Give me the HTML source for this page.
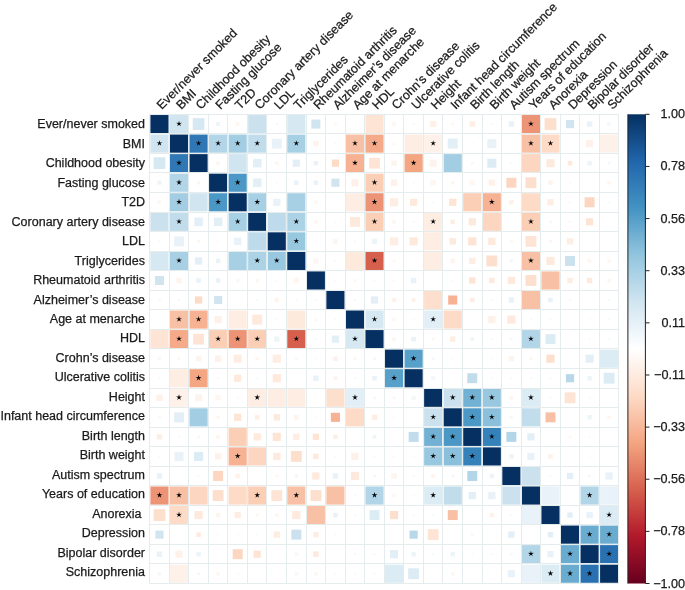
<!DOCTYPE html>
<html><head><meta charset="utf-8"><style>
html,body{margin:0;padding:0;background:#fff;}
body{width:685px;height:590px;overflow:hidden;position:relative;}
svg{position:absolute;left:0;top:0;will-change:transform;}
text{font-family:"Liberation Sans",sans-serif;fill:#1a1a1a;stroke:#1a1a1a;stroke-width:0.25px;}
</style></head><body>
<svg width="685" height="590" viewBox="0 0 685 590">
<defs><linearGradient id="cb" x1="0" y1="0" x2="0" y2="1">
<stop offset="0.000" stop-color="#053061"/>
<stop offset="0.100" stop-color="#2166AC"/>
<stop offset="0.200" stop-color="#4393C3"/>
<stop offset="0.300" stop-color="#92C5DE"/>
<stop offset="0.400" stop-color="#D1E5F0"/>
<stop offset="0.500" stop-color="#FFFFFF"/>
<stop offset="0.600" stop-color="#FDDBC7"/>
<stop offset="0.700" stop-color="#F4A582"/>
<stop offset="0.800" stop-color="#D6604D"/>
<stop offset="0.900" stop-color="#B2182B"/>
<stop offset="1.000" stop-color="#67001F"/>
</linearGradient></defs>
<g shape-rendering="auto">
<rect x="150.42" y="115.03" width="18.10" height="18.10" fill="#053061"/>
<rect x="169.97" y="115.03" width="18.10" height="18.10" fill="#d1e5f0"/>
<rect x="192.69" y="118.19" width="11.77" height="11.77" fill="#d6e8f2"/>
<rect x="216.13" y="122.08" width="3.98" height="3.98" fill="#edf5f9"/>
<rect x="235.87" y="122.27" width="3.62" height="3.62" fill="#fef6f1"/>
<rect x="248.18" y="115.03" width="18.10" height="18.10" fill="#cbe2ee"/>
<rect x="275.69" y="122.99" width="2.17" height="2.17" fill="#f4f8fb"/>
<rect x="287.27" y="115.03" width="18.10" height="18.10" fill="#d6e8f2"/>
<rect x="311.35" y="119.55" width="9.05" height="9.05" fill="#d1e5f0"/>
<rect x="334.07" y="122.72" width="2.72" height="2.72" fill="#fef6f1"/>
<rect x="365.47" y="115.03" width="18.10" height="18.10" fill="#fee4d5"/>
<rect x="392.26" y="122.27" width="3.62" height="3.62" fill="#fef6f1"/>
<rect x="412.72" y="123.17" width="1.81" height="1.81" fill="#f4f8fb"/>
<rect x="430.01" y="120.91" width="6.33" height="6.33" fill="#fef1e9"/>
<rect x="451.37" y="122.72" width="2.72" height="2.72" fill="#fef6f1"/>
<rect x="469.56" y="121.36" width="5.43" height="5.43" fill="#feede3"/>
<rect x="490.92" y="123.17" width="1.81" height="1.81" fill="#f4f8fb"/>
<rect x="508.66" y="121.36" width="5.43" height="5.43" fill="#e8f2f8"/>
<rect x="521.88" y="115.03" width="18.10" height="18.10" fill="#ec9475"/>
<rect x="544.59" y="118.19" width="11.77" height="11.77" fill="#fddfcd"/>
<rect x="565.95" y="120.00" width="8.15" height="8.15" fill="#d1e5f0"/>
<rect x="586.86" y="121.36" width="5.43" height="5.43" fill="#e8f2f8"/>
<rect x="607.32" y="122.27" width="3.62" height="3.62" fill="#f4f8fb"/>
<rect x="150.42" y="134.57" width="18.10" height="18.10" fill="#d1e5f0"/>
<rect x="169.97" y="134.57" width="18.10" height="18.10" fill="#053061"/>
<rect x="189.52" y="134.57" width="18.10" height="18.10" fill="#2f78b5"/>
<rect x="209.07" y="134.57" width="18.10" height="18.10" fill="#b2d5e7"/>
<rect x="228.62" y="134.57" width="18.10" height="18.10" fill="#a2cde2"/>
<rect x="248.18" y="134.57" width="18.10" height="18.10" fill="#c1ddec"/>
<rect x="271.80" y="138.65" width="9.96" height="9.96" fill="#e8f2f8"/>
<rect x="287.27" y="134.57" width="18.10" height="18.10" fill="#a8d0e4"/>
<rect x="313.16" y="140.91" width="5.43" height="5.43" fill="#fef4ee"/>
<rect x="334.52" y="142.72" width="1.81" height="1.81" fill="#f4f8fb"/>
<rect x="345.93" y="134.57" width="18.10" height="18.10" fill="#f8c0a4"/>
<rect x="365.47" y="134.57" width="18.10" height="18.10" fill="#f5aa89"/>
<rect x="392.72" y="142.27" width="2.72" height="2.72" fill="#fef6f1"/>
<rect x="404.57" y="134.57" width="18.10" height="18.10" fill="#feede3"/>
<rect x="424.12" y="134.57" width="18.10" height="18.10" fill="#fef1e9"/>
<rect x="447.75" y="138.65" width="9.96" height="9.96" fill="#e3eff6"/>
<rect x="471.37" y="142.72" width="1.81" height="1.81" fill="#f4f8fb"/>
<rect x="487.30" y="139.10" width="9.05" height="9.05" fill="#e8f2f8"/>
<rect x="521.88" y="134.57" width="18.10" height="18.10" fill="#f8c0a4"/>
<rect x="541.43" y="134.57" width="18.10" height="18.10" fill="#fddbc7"/>
<rect x="585.96" y="140.00" width="7.24" height="7.24" fill="#fef1e9"/>
<rect x="600.08" y="134.57" width="18.10" height="18.10" fill="#fef1e9"/>
<rect x="153.59" y="157.29" width="11.77" height="11.77" fill="#d6e8f2"/>
<rect x="169.97" y="154.12" width="18.10" height="18.10" fill="#2f78b5"/>
<rect x="189.52" y="154.12" width="18.10" height="18.10" fill="#053061"/>
<rect x="216.31" y="161.37" width="3.62" height="3.62" fill="#fef6f1"/>
<rect x="228.62" y="154.12" width="18.10" height="18.10" fill="#d1e5f0"/>
<rect x="252.97" y="158.92" width="8.51" height="8.51" fill="#e3eff6"/>
<rect x="274.96" y="161.37" width="3.62" height="3.62" fill="#fef6f1"/>
<rect x="292.70" y="159.56" width="7.24" height="7.24" fill="#e3eff6"/>
<rect x="313.61" y="160.91" width="4.53" height="4.53" fill="#e8f2f8"/>
<rect x="331.80" y="159.56" width="7.24" height="7.24" fill="#fddbc7"/>
<rect x="345.93" y="154.12" width="18.10" height="18.10" fill="#f6b293"/>
<rect x="369.09" y="157.75" width="10.86" height="10.86" fill="#fee4d5"/>
<rect x="391.36" y="160.46" width="5.43" height="5.43" fill="#fef4ee"/>
<rect x="404.57" y="154.12" width="18.10" height="18.10" fill="#f4a582"/>
<rect x="429.56" y="159.56" width="7.24" height="7.24" fill="#fef4ee"/>
<rect x="443.68" y="154.12" width="18.10" height="18.10" fill="#a2cde2"/>
<rect x="470.92" y="161.82" width="2.72" height="2.72" fill="#f4f8fb"/>
<rect x="487.30" y="158.65" width="9.05" height="9.05" fill="#dcecf4"/>
<rect x="510.47" y="162.27" width="1.81" height="1.81" fill="#f4f8fb"/>
<rect x="521.88" y="154.12" width="18.10" height="18.10" fill="#fcd6c0"/>
<rect x="546.40" y="159.10" width="8.15" height="8.15" fill="#fee9dd"/>
<rect x="567.76" y="160.91" width="4.53" height="4.53" fill="#fee9dd"/>
<rect x="587.31" y="160.91" width="4.53" height="4.53" fill="#edf5f9"/>
<rect x="607.77" y="161.82" width="2.72" height="2.72" fill="#f4f8fb"/>
<rect x="157.48" y="180.73" width="3.98" height="3.98" fill="#edf5f9"/>
<rect x="169.97" y="173.67" width="18.10" height="18.10" fill="#b2d5e7"/>
<rect x="196.76" y="180.91" width="3.62" height="3.62" fill="#fef6f1"/>
<rect x="209.07" y="173.67" width="18.10" height="18.10" fill="#053061"/>
<rect x="228.62" y="173.67" width="18.10" height="18.10" fill="#4b98c6"/>
<rect x="252.97" y="178.47" width="8.51" height="8.51" fill="#e3eff6"/>
<rect x="275.87" y="181.82" width="1.81" height="1.81" fill="#f4f8fb"/>
<rect x="294.06" y="180.46" width="4.53" height="4.53" fill="#e8f2f8"/>
<rect x="313.61" y="180.46" width="4.53" height="4.53" fill="#e8f2f8"/>
<rect x="331.35" y="178.65" width="8.15" height="8.15" fill="#d1e5f0"/>
<rect x="351.36" y="179.10" width="7.24" height="7.24" fill="#fef1e9"/>
<rect x="365.47" y="173.67" width="18.10" height="18.10" fill="#fbceb6"/>
<rect x="390.91" y="179.56" width="6.33" height="6.33" fill="#fef1e9"/>
<rect x="412.72" y="181.82" width="1.81" height="1.81" fill="#f4f8fb"/>
<rect x="430.46" y="180.01" width="5.43" height="5.43" fill="#fef6f1"/>
<rect x="450.92" y="180.91" width="3.62" height="3.62" fill="#fef6f1"/>
<rect x="470.01" y="180.46" width="4.53" height="4.53" fill="#fef6f1"/>
<rect x="488.66" y="179.56" width="6.33" height="6.33" fill="#fef1e9"/>
<rect x="506.40" y="177.75" width="9.96" height="9.96" fill="#fcd6c0"/>
<rect x="525.50" y="177.29" width="10.86" height="10.86" fill="#fddfcd"/>
<rect x="548.21" y="180.46" width="4.53" height="4.53" fill="#fef4ee"/>
<rect x="569.12" y="181.82" width="1.81" height="1.81" fill="#f4f8fb"/>
<rect x="607.32" y="180.91" width="3.62" height="3.62" fill="#fef6f1"/>
<rect x="157.66" y="200.47" width="3.62" height="3.62" fill="#fef6f1"/>
<rect x="169.97" y="193.22" width="18.10" height="18.10" fill="#a2cde2"/>
<rect x="189.52" y="193.22" width="18.10" height="18.10" fill="#d1e5f0"/>
<rect x="209.07" y="193.22" width="18.10" height="18.10" fill="#4b98c6"/>
<rect x="228.62" y="193.22" width="18.10" height="18.10" fill="#053061"/>
<rect x="248.18" y="193.22" width="18.10" height="18.10" fill="#a8d0e4"/>
<rect x="273.15" y="198.66" width="7.24" height="7.24" fill="#e8f2f8"/>
<rect x="287.27" y="193.22" width="18.10" height="18.10" fill="#a8d0e4"/>
<rect x="314.06" y="200.47" width="3.62" height="3.62" fill="#fef6f1"/>
<rect x="345.93" y="193.22" width="18.10" height="18.10" fill="#feede3"/>
<rect x="365.47" y="193.22" width="18.10" height="18.10" fill="#ec9475"/>
<rect x="390.00" y="198.20" width="8.15" height="8.15" fill="#feede3"/>
<rect x="410.00" y="198.66" width="7.24" height="7.24" fill="#fee9dd"/>
<rect x="432.27" y="201.37" width="1.81" height="1.81" fill="#f4f8fb"/>
<rect x="449.11" y="198.66" width="7.24" height="7.24" fill="#fee4d5"/>
<rect x="463.22" y="193.22" width="18.10" height="18.10" fill="#fbceb6"/>
<rect x="482.77" y="193.22" width="18.10" height="18.10" fill="#f6b293"/>
<rect x="509.11" y="200.01" width="4.53" height="4.53" fill="#fef1e9"/>
<rect x="521.88" y="193.22" width="18.10" height="18.10" fill="#fddbc7"/>
<rect x="547.31" y="199.11" width="6.33" height="6.33" fill="#feede3"/>
<rect x="569.12" y="201.37" width="1.81" height="1.81" fill="#f4f8fb"/>
<rect x="584.60" y="197.30" width="9.96" height="9.96" fill="#fcd6c0"/>
<rect x="608.22" y="201.37" width="1.81" height="1.81" fill="#f4f8fb"/>
<rect x="150.42" y="212.77" width="18.10" height="18.10" fill="#cbe2ee"/>
<rect x="169.97" y="212.77" width="18.10" height="18.10" fill="#c1ddec"/>
<rect x="194.32" y="217.57" width="8.51" height="8.51" fill="#e3eff6"/>
<rect x="213.87" y="217.57" width="8.51" height="8.51" fill="#e3eff6"/>
<rect x="228.62" y="212.77" width="18.10" height="18.10" fill="#a8d0e4"/>
<rect x="248.18" y="212.77" width="18.10" height="18.10" fill="#053061"/>
<rect x="267.72" y="212.77" width="18.10" height="18.10" fill="#bedbeb"/>
<rect x="287.27" y="212.77" width="18.10" height="18.10" fill="#abd2e5"/>
<rect x="314.06" y="220.01" width="3.62" height="3.62" fill="#fef6f1"/>
<rect x="334.52" y="220.92" width="1.81" height="1.81" fill="#f4f8fb"/>
<rect x="350.00" y="216.85" width="9.96" height="9.96" fill="#fee9dd"/>
<rect x="365.47" y="212.77" width="18.10" height="18.10" fill="#fbceb6"/>
<rect x="392.26" y="220.01" width="3.62" height="3.62" fill="#fef6f1"/>
<rect x="412.72" y="220.92" width="1.81" height="1.81" fill="#f4f8fb"/>
<rect x="424.12" y="212.77" width="18.10" height="18.10" fill="#feede3"/>
<rect x="450.46" y="219.56" width="4.53" height="4.53" fill="#feede3"/>
<rect x="468.65" y="218.20" width="7.24" height="7.24" fill="#fee9dd"/>
<rect x="482.77" y="212.77" width="18.10" height="18.10" fill="#fcd6c0"/>
<rect x="521.88" y="212.77" width="18.10" height="18.10" fill="#fbceb6"/>
<rect x="549.12" y="220.47" width="2.72" height="2.72" fill="#fef6f1"/>
<rect x="569.12" y="220.92" width="1.81" height="1.81" fill="#f4f8fb"/>
<rect x="585.96" y="218.20" width="7.24" height="7.24" fill="#fee4d5"/>
<rect x="158.39" y="240.29" width="2.17" height="2.17" fill="#f4f8fb"/>
<rect x="174.05" y="236.40" width="9.96" height="9.96" fill="#e8f2f8"/>
<rect x="196.76" y="239.56" width="3.62" height="3.62" fill="#fef6f1"/>
<rect x="217.22" y="240.47" width="1.81" height="1.81" fill="#f4f8fb"/>
<rect x="234.06" y="237.75" width="7.24" height="7.24" fill="#e8f2f8"/>
<rect x="248.18" y="232.32" width="18.10" height="18.10" fill="#bedbeb"/>
<rect x="267.72" y="232.32" width="18.10" height="18.10" fill="#053061"/>
<rect x="287.27" y="232.32" width="18.10" height="18.10" fill="#98c8e0"/>
<rect x="314.97" y="240.47" width="1.81" height="1.81" fill="#f4f8fb"/>
<rect x="333.16" y="239.11" width="4.53" height="4.53" fill="#fef4ee"/>
<rect x="354.07" y="240.47" width="1.81" height="1.81" fill="#f4f8fb"/>
<rect x="371.81" y="238.66" width="5.43" height="5.43" fill="#edf5f9"/>
<rect x="390.00" y="237.30" width="8.15" height="8.15" fill="#feede3"/>
<rect x="409.55" y="237.30" width="8.15" height="8.15" fill="#fee9dd"/>
<rect x="424.12" y="232.32" width="18.10" height="18.10" fill="#feede3"/>
<rect x="449.56" y="238.21" width="6.33" height="6.33" fill="#fee9dd"/>
<rect x="468.20" y="237.30" width="8.15" height="8.15" fill="#fee4d5"/>
<rect x="488.20" y="237.75" width="7.24" height="7.24" fill="#fee9dd"/>
<rect x="510.02" y="240.02" width="2.72" height="2.72" fill="#fef6f1"/>
<rect x="525.50" y="235.94" width="10.86" height="10.86" fill="#fee4d5"/>
<rect x="548.67" y="239.56" width="3.62" height="3.62" fill="#fef6f1"/>
<rect x="566.86" y="238.21" width="6.33" height="6.33" fill="#feede3"/>
<rect x="150.42" y="251.88" width="18.10" height="18.10" fill="#d6e8f2"/>
<rect x="169.97" y="251.88" width="18.10" height="18.10" fill="#a8d0e4"/>
<rect x="194.95" y="257.31" width="7.24" height="7.24" fill="#e3eff6"/>
<rect x="215.86" y="258.66" width="4.53" height="4.53" fill="#e8f2f8"/>
<rect x="228.62" y="251.88" width="18.10" height="18.10" fill="#a8d0e4"/>
<rect x="248.18" y="251.88" width="18.10" height="18.10" fill="#abd2e5"/>
<rect x="267.72" y="251.88" width="18.10" height="18.10" fill="#98c8e0"/>
<rect x="287.27" y="251.88" width="18.10" height="18.10" fill="#053061"/>
<rect x="313.16" y="258.21" width="5.43" height="5.43" fill="#fef6f1"/>
<rect x="334.52" y="260.02" width="1.81" height="1.81" fill="#f4f8fb"/>
<rect x="345.93" y="251.88" width="18.10" height="18.10" fill="#fee9dd"/>
<rect x="365.47" y="251.88" width="18.10" height="18.10" fill="#d6604d"/>
<rect x="392.72" y="259.57" width="2.72" height="2.72" fill="#fef6f1"/>
<rect x="424.12" y="251.88" width="18.10" height="18.10" fill="#feede3"/>
<rect x="450.46" y="258.66" width="4.53" height="4.53" fill="#fef4ee"/>
<rect x="469.11" y="257.76" width="6.33" height="6.33" fill="#feede3"/>
<rect x="486.39" y="255.50" width="10.86" height="10.86" fill="#fddfcd"/>
<rect x="509.56" y="259.12" width="3.62" height="3.62" fill="#f4f8fb"/>
<rect x="521.88" y="251.88" width="18.10" height="18.10" fill="#f8c0a4"/>
<rect x="546.40" y="256.85" width="8.15" height="8.15" fill="#fee9dd"/>
<rect x="565.05" y="255.95" width="9.96" height="9.96" fill="#cbe2ee"/>
<rect x="587.77" y="259.12" width="3.62" height="3.62" fill="#fef6f1"/>
<rect x="607.32" y="259.12" width="3.62" height="3.62" fill="#fef6f1"/>
<rect x="154.95" y="275.95" width="9.05" height="9.05" fill="#d1e5f0"/>
<rect x="176.31" y="277.76" width="5.43" height="5.43" fill="#fef4ee"/>
<rect x="196.31" y="278.21" width="4.53" height="4.53" fill="#e8f2f8"/>
<rect x="215.86" y="278.21" width="4.53" height="4.53" fill="#e8f2f8"/>
<rect x="235.87" y="278.67" width="3.62" height="3.62" fill="#fef6f1"/>
<rect x="255.42" y="278.67" width="3.62" height="3.62" fill="#fef6f1"/>
<rect x="275.87" y="279.57" width="1.81" height="1.81" fill="#f4f8fb"/>
<rect x="293.61" y="277.76" width="5.43" height="5.43" fill="#fef6f1"/>
<rect x="306.82" y="271.43" width="18.10" height="18.10" fill="#053061"/>
<rect x="334.52" y="279.57" width="1.81" height="1.81" fill="#f4f8fb"/>
<rect x="353.62" y="279.12" width="2.72" height="2.72" fill="#fef6f1"/>
<rect x="373.62" y="279.57" width="1.81" height="1.81" fill="#f4f8fb"/>
<rect x="393.17" y="279.57" width="1.81" height="1.81" fill="#f4f8fb"/>
<rect x="410.91" y="277.76" width="5.43" height="5.43" fill="#e8f2f8"/>
<rect x="451.82" y="279.57" width="1.81" height="1.81" fill="#f4f8fb"/>
<rect x="469.11" y="277.31" width="6.33" height="6.33" fill="#fee4d5"/>
<rect x="489.11" y="277.76" width="5.43" height="5.43" fill="#fee9dd"/>
<rect x="507.75" y="276.86" width="7.24" height="7.24" fill="#fee9dd"/>
<rect x="525.50" y="275.05" width="10.86" height="10.86" fill="#fddfcd"/>
<rect x="541.43" y="271.43" width="18.10" height="18.10" fill="#f8c0a4"/>
<rect x="567.31" y="277.76" width="5.43" height="5.43" fill="#feede3"/>
<rect x="586.86" y="277.76" width="5.43" height="5.43" fill="#fee9dd"/>
<rect x="607.32" y="278.67" width="3.62" height="3.62" fill="#fef6f1"/>
<rect x="158.12" y="298.67" width="2.72" height="2.72" fill="#fef6f1"/>
<rect x="178.12" y="299.12" width="1.81" height="1.81" fill="#f4f8fb"/>
<rect x="194.95" y="296.40" width="7.24" height="7.24" fill="#fddbc7"/>
<rect x="214.05" y="295.95" width="8.15" height="8.15" fill="#d1e5f0"/>
<rect x="256.32" y="299.12" width="1.81" height="1.81" fill="#f4f8fb"/>
<rect x="274.51" y="297.76" width="4.53" height="4.53" fill="#fef4ee"/>
<rect x="295.42" y="299.12" width="1.81" height="1.81" fill="#f4f8fb"/>
<rect x="314.97" y="299.12" width="1.81" height="1.81" fill="#f4f8fb"/>
<rect x="326.37" y="290.97" width="18.10" height="18.10" fill="#053061"/>
<rect x="354.07" y="299.12" width="1.81" height="1.81" fill="#f4f8fb"/>
<rect x="370.90" y="296.40" width="7.24" height="7.24" fill="#e3eff6"/>
<rect x="391.81" y="297.76" width="4.53" height="4.53" fill="#fef1e9"/>
<rect x="411.81" y="298.21" width="3.62" height="3.62" fill="#fef1e9"/>
<rect x="424.12" y="290.97" width="18.10" height="18.10" fill="#fddfcd"/>
<rect x="448.20" y="295.50" width="9.05" height="9.05" fill="#f6b293"/>
<rect x="470.01" y="297.76" width="4.53" height="4.53" fill="#feede3"/>
<rect x="490.92" y="299.12" width="1.81" height="1.81" fill="#f4f8fb"/>
<rect x="508.66" y="297.31" width="5.43" height="5.43" fill="#e8f2f8"/>
<rect x="521.88" y="290.97" width="18.10" height="18.10" fill="#f8c0a4"/>
<rect x="548.21" y="297.76" width="4.53" height="4.53" fill="#e8f2f8"/>
<rect x="569.12" y="299.12" width="1.81" height="1.81" fill="#f4f8fb"/>
<rect x="608.22" y="299.12" width="1.81" height="1.81" fill="#f4f8fb"/>
<rect x="169.97" y="310.52" width="18.10" height="18.10" fill="#f8c0a4"/>
<rect x="189.52" y="310.52" width="18.10" height="18.10" fill="#f6b293"/>
<rect x="214.50" y="315.95" width="7.24" height="7.24" fill="#fef1e9"/>
<rect x="228.62" y="310.52" width="18.10" height="18.10" fill="#feede3"/>
<rect x="252.25" y="314.60" width="9.96" height="9.96" fill="#fee9dd"/>
<rect x="275.87" y="318.67" width="1.81" height="1.81" fill="#f4f8fb"/>
<rect x="287.27" y="310.52" width="18.10" height="18.10" fill="#fee9dd"/>
<rect x="314.52" y="318.22" width="2.72" height="2.72" fill="#fef6f1"/>
<rect x="334.52" y="318.67" width="1.81" height="1.81" fill="#f4f8fb"/>
<rect x="345.93" y="310.52" width="18.10" height="18.10" fill="#053061"/>
<rect x="365.47" y="310.52" width="18.10" height="18.10" fill="#d6e8f2"/>
<rect x="392.26" y="317.76" width="3.62" height="3.62" fill="#fef6f1"/>
<rect x="412.72" y="318.67" width="1.81" height="1.81" fill="#f4f8fb"/>
<rect x="424.12" y="310.52" width="18.10" height="18.10" fill="#e3eff6"/>
<rect x="443.68" y="310.52" width="18.10" height="18.10" fill="#fddbc7"/>
<rect x="488.20" y="315.95" width="7.24" height="7.24" fill="#fef1e9"/>
<rect x="507.30" y="315.50" width="8.15" height="8.15" fill="#fee9dd"/>
<rect x="530.02" y="318.67" width="1.81" height="1.81" fill="#f4f8fb"/>
<rect x="549.57" y="318.67" width="1.81" height="1.81" fill="#f4f8fb"/>
<rect x="588.67" y="318.67" width="1.81" height="1.81" fill="#f4f8fb"/>
<rect x="608.22" y="318.67" width="1.81" height="1.81" fill="#f4f8fb"/>
<rect x="150.42" y="330.07" width="18.10" height="18.10" fill="#fee4d5"/>
<rect x="169.97" y="330.07" width="18.10" height="18.10" fill="#f5aa89"/>
<rect x="193.14" y="333.69" width="10.86" height="10.86" fill="#fee4d5"/>
<rect x="209.07" y="330.07" width="18.10" height="18.10" fill="#fbceb6"/>
<rect x="228.62" y="330.07" width="18.10" height="18.10" fill="#ec9475"/>
<rect x="248.18" y="330.07" width="18.10" height="18.10" fill="#fbceb6"/>
<rect x="274.06" y="336.41" width="5.43" height="5.43" fill="#edf5f9"/>
<rect x="287.27" y="330.07" width="18.10" height="18.10" fill="#d6604d"/>
<rect x="314.97" y="338.22" width="1.81" height="1.81" fill="#f4f8fb"/>
<rect x="331.80" y="335.50" width="7.24" height="7.24" fill="#e3eff6"/>
<rect x="345.93" y="330.07" width="18.10" height="18.10" fill="#d6e8f2"/>
<rect x="365.47" y="330.07" width="18.10" height="18.10" fill="#053061"/>
<rect x="392.26" y="337.31" width="3.62" height="3.62" fill="#fef6f1"/>
<rect x="411.36" y="336.86" width="4.53" height="4.53" fill="#e8f2f8"/>
<rect x="431.82" y="337.77" width="2.72" height="2.72" fill="#fef6f1"/>
<rect x="450.01" y="336.41" width="5.43" height="5.43" fill="#feede3"/>
<rect x="470.46" y="337.31" width="3.62" height="3.62" fill="#edf5f9"/>
<rect x="490.92" y="338.22" width="1.81" height="1.81" fill="#f4f8fb"/>
<rect x="510.02" y="337.77" width="2.72" height="2.72" fill="#f4f8fb"/>
<rect x="521.88" y="330.07" width="18.10" height="18.10" fill="#b2d5e7"/>
<rect x="545.50" y="334.15" width="9.96" height="9.96" fill="#dcecf4"/>
<rect x="588.67" y="338.22" width="1.81" height="1.81" fill="#f4f8fb"/>
<rect x="608.22" y="338.22" width="1.81" height="1.81" fill="#f4f8fb"/>
<rect x="157.66" y="356.87" width="3.62" height="3.62" fill="#fef6f1"/>
<rect x="177.67" y="357.32" width="2.72" height="2.72" fill="#fef6f1"/>
<rect x="195.86" y="355.96" width="5.43" height="5.43" fill="#fef4ee"/>
<rect x="214.96" y="355.51" width="6.33" height="6.33" fill="#fef1e9"/>
<rect x="233.60" y="354.60" width="8.15" height="8.15" fill="#feede3"/>
<rect x="255.42" y="356.87" width="3.62" height="3.62" fill="#fef6f1"/>
<rect x="272.70" y="354.60" width="8.15" height="8.15" fill="#feede3"/>
<rect x="294.97" y="357.32" width="2.72" height="2.72" fill="#fef6f1"/>
<rect x="314.97" y="357.77" width="1.81" height="1.81" fill="#f4f8fb"/>
<rect x="333.16" y="356.41" width="4.53" height="4.53" fill="#fef1e9"/>
<rect x="353.17" y="356.87" width="3.62" height="3.62" fill="#fef6f1"/>
<rect x="372.71" y="356.87" width="3.62" height="3.62" fill="#fef6f1"/>
<rect x="385.02" y="349.62" width="18.10" height="18.10" fill="#053061"/>
<rect x="404.57" y="349.62" width="18.10" height="18.10" fill="#57a0ca"/>
<rect x="431.82" y="357.32" width="2.72" height="2.72" fill="#f4f8fb"/>
<rect x="451.82" y="357.77" width="1.81" height="1.81" fill="#f4f8fb"/>
<rect x="490.92" y="357.77" width="1.81" height="1.81" fill="#f4f8fb"/>
<rect x="508.66" y="355.96" width="5.43" height="5.43" fill="#fef4ee"/>
<rect x="529.12" y="356.87" width="3.62" height="3.62" fill="#fef6f1"/>
<rect x="546.40" y="354.60" width="8.15" height="8.15" fill="#fddfcd"/>
<rect x="585.50" y="354.60" width="8.15" height="8.15" fill="#e3eff6"/>
<rect x="600.08" y="349.62" width="18.10" height="18.10" fill="#dcecf4"/>
<rect x="158.57" y="377.32" width="1.81" height="1.81" fill="#f4f8fb"/>
<rect x="169.97" y="369.18" width="18.10" height="18.10" fill="#feede3"/>
<rect x="189.52" y="369.18" width="18.10" height="18.10" fill="#f4a582"/>
<rect x="217.22" y="377.32" width="1.81" height="1.81" fill="#f4f8fb"/>
<rect x="234.06" y="374.61" width="7.24" height="7.24" fill="#fee9dd"/>
<rect x="256.32" y="377.32" width="1.81" height="1.81" fill="#f4f8fb"/>
<rect x="272.70" y="374.15" width="8.15" height="8.15" fill="#fee9dd"/>
<rect x="313.16" y="375.51" width="5.43" height="5.43" fill="#e8f2f8"/>
<rect x="333.61" y="376.42" width="3.62" height="3.62" fill="#fef1e9"/>
<rect x="354.07" y="377.32" width="1.81" height="1.81" fill="#f4f8fb"/>
<rect x="372.26" y="375.96" width="4.53" height="4.53" fill="#e8f2f8"/>
<rect x="385.02" y="369.18" width="18.10" height="18.10" fill="#57a0ca"/>
<rect x="404.57" y="369.18" width="18.10" height="18.10" fill="#053061"/>
<rect x="430.91" y="375.96" width="4.53" height="4.53" fill="#f4f8fb"/>
<rect x="467.30" y="373.25" width="9.96" height="9.96" fill="#c1ddec"/>
<rect x="490.92" y="377.32" width="1.81" height="1.81" fill="#f4f8fb"/>
<rect x="510.47" y="377.32" width="1.81" height="1.81" fill="#f4f8fb"/>
<rect x="530.02" y="377.32" width="1.81" height="1.81" fill="#f4f8fb"/>
<rect x="549.57" y="377.32" width="1.81" height="1.81" fill="#f4f8fb"/>
<rect x="565.95" y="374.15" width="8.15" height="8.15" fill="#b8d8e9"/>
<rect x="587.31" y="375.96" width="4.53" height="4.53" fill="#edf5f9"/>
<rect x="603.70" y="372.80" width="10.86" height="10.86" fill="#dcecf4"/>
<rect x="156.31" y="394.61" width="6.33" height="6.33" fill="#fef1e9"/>
<rect x="169.97" y="388.73" width="18.10" height="18.10" fill="#fef1e9"/>
<rect x="194.95" y="394.16" width="7.24" height="7.24" fill="#fef4ee"/>
<rect x="215.41" y="395.06" width="5.43" height="5.43" fill="#fef6f1"/>
<rect x="236.77" y="396.87" width="1.81" height="1.81" fill="#f4f8fb"/>
<rect x="248.18" y="388.73" width="18.10" height="18.10" fill="#feede3"/>
<rect x="267.72" y="388.73" width="18.10" height="18.10" fill="#feede3"/>
<rect x="287.27" y="388.73" width="18.10" height="18.10" fill="#feede3"/>
<rect x="326.37" y="388.73" width="18.10" height="18.10" fill="#fddfcd"/>
<rect x="345.93" y="388.73" width="18.10" height="18.10" fill="#e3eff6"/>
<rect x="373.17" y="396.42" width="2.72" height="2.72" fill="#fef6f1"/>
<rect x="392.72" y="396.42" width="2.72" height="2.72" fill="#f4f8fb"/>
<rect x="411.36" y="395.51" width="4.53" height="4.53" fill="#f4f8fb"/>
<rect x="424.12" y="388.73" width="18.10" height="18.10" fill="#053061"/>
<rect x="443.68" y="388.73" width="18.10" height="18.10" fill="#cbe2ee"/>
<rect x="463.22" y="388.73" width="18.10" height="18.10" fill="#72b1d3"/>
<rect x="482.77" y="388.73" width="18.10" height="18.10" fill="#98c8e0"/>
<rect x="509.56" y="395.97" width="3.62" height="3.62" fill="#fef4ee"/>
<rect x="521.88" y="388.73" width="18.10" height="18.10" fill="#dcecf4"/>
<rect x="549.57" y="396.87" width="1.81" height="1.81" fill="#f4f8fb"/>
<rect x="564.60" y="392.35" width="10.86" height="10.86" fill="#fee4d5"/>
<rect x="588.67" y="396.87" width="1.81" height="1.81" fill="#f4f8fb"/>
<rect x="158.12" y="415.97" width="2.72" height="2.72" fill="#fef6f1"/>
<rect x="174.05" y="412.35" width="9.96" height="9.96" fill="#e3eff6"/>
<rect x="189.52" y="408.28" width="18.10" height="18.10" fill="#a2cde2"/>
<rect x="216.31" y="415.52" width="3.62" height="3.62" fill="#fef6f1"/>
<rect x="234.06" y="413.71" width="7.24" height="7.24" fill="#fee4d5"/>
<rect x="254.96" y="415.06" width="4.53" height="4.53" fill="#feede3"/>
<rect x="273.61" y="414.16" width="6.33" height="6.33" fill="#fee9dd"/>
<rect x="294.06" y="415.06" width="4.53" height="4.53" fill="#fef4ee"/>
<rect x="314.97" y="416.42" width="1.81" height="1.81" fill="#f4f8fb"/>
<rect x="330.90" y="412.80" width="9.05" height="9.05" fill="#f6b293"/>
<rect x="345.93" y="408.28" width="18.10" height="18.10" fill="#fddbc7"/>
<rect x="371.81" y="414.61" width="5.43" height="5.43" fill="#feede3"/>
<rect x="393.17" y="416.42" width="1.81" height="1.81" fill="#f4f8fb"/>
<rect x="424.12" y="408.28" width="18.10" height="18.10" fill="#cbe2ee"/>
<rect x="443.68" y="408.28" width="18.10" height="18.10" fill="#053061"/>
<rect x="463.22" y="408.28" width="18.10" height="18.10" fill="#4b98c6"/>
<rect x="482.77" y="408.28" width="18.10" height="18.10" fill="#8ac0db"/>
<rect x="510.02" y="415.97" width="2.72" height="2.72" fill="#f4f8fb"/>
<rect x="521.88" y="408.28" width="18.10" height="18.10" fill="#c1ddec"/>
<rect x="545.50" y="412.35" width="9.96" height="9.96" fill="#f8c0a4"/>
<rect x="587.31" y="415.06" width="4.53" height="4.53" fill="#edf5f9"/>
<rect x="607.32" y="415.52" width="3.62" height="3.62" fill="#fef6f1"/>
<rect x="156.76" y="434.16" width="5.43" height="5.43" fill="#feede3"/>
<rect x="178.12" y="435.97" width="1.81" height="1.81" fill="#f4f8fb"/>
<rect x="197.22" y="435.52" width="2.72" height="2.72" fill="#f4f8fb"/>
<rect x="215.86" y="434.61" width="4.53" height="4.53" fill="#fef6f1"/>
<rect x="228.62" y="427.82" width="18.10" height="18.10" fill="#fbceb6"/>
<rect x="253.61" y="433.25" width="7.24" height="7.24" fill="#fee9dd"/>
<rect x="272.70" y="432.80" width="8.15" height="8.15" fill="#fee4d5"/>
<rect x="293.16" y="433.71" width="6.33" height="6.33" fill="#feede3"/>
<rect x="312.71" y="433.71" width="6.33" height="6.33" fill="#fee4d5"/>
<rect x="333.16" y="434.61" width="4.53" height="4.53" fill="#feede3"/>
<rect x="372.71" y="435.06" width="3.62" height="3.62" fill="#edf5f9"/>
<rect x="408.65" y="431.90" width="9.96" height="9.96" fill="#c1ddec"/>
<rect x="424.12" y="427.82" width="18.10" height="18.10" fill="#72b1d3"/>
<rect x="443.68" y="427.82" width="18.10" height="18.10" fill="#4b98c6"/>
<rect x="463.22" y="427.82" width="18.10" height="18.10" fill="#053061"/>
<rect x="482.77" y="427.82" width="18.10" height="18.10" fill="#3581ba"/>
<rect x="506.40" y="431.90" width="9.96" height="9.96" fill="#b2d5e7"/>
<rect x="527.30" y="433.25" width="7.24" height="7.24" fill="#e3eff6"/>
<rect x="568.67" y="435.52" width="2.72" height="2.72" fill="#fef6f1"/>
<rect x="588.67" y="435.97" width="1.81" height="1.81" fill="#f4f8fb"/>
<rect x="158.57" y="455.52" width="1.81" height="1.81" fill="#f4f8fb"/>
<rect x="174.50" y="451.90" width="9.05" height="9.05" fill="#e8f2f8"/>
<rect x="194.05" y="451.90" width="9.05" height="9.05" fill="#dcecf4"/>
<rect x="214.96" y="453.26" width="6.33" height="6.33" fill="#fef1e9"/>
<rect x="228.62" y="447.38" width="18.10" height="18.10" fill="#f6b293"/>
<rect x="248.18" y="447.38" width="18.10" height="18.10" fill="#fcd6c0"/>
<rect x="273.15" y="452.81" width="7.24" height="7.24" fill="#fee9dd"/>
<rect x="290.89" y="451.00" width="10.86" height="10.86" fill="#fddfcd"/>
<rect x="313.16" y="453.71" width="5.43" height="5.43" fill="#fee9dd"/>
<rect x="334.52" y="455.52" width="1.81" height="1.81" fill="#f4f8fb"/>
<rect x="351.36" y="452.81" width="7.24" height="7.24" fill="#fef1e9"/>
<rect x="373.62" y="455.52" width="1.81" height="1.81" fill="#f4f8fb"/>
<rect x="393.17" y="455.52" width="1.81" height="1.81" fill="#f4f8fb"/>
<rect x="412.72" y="455.52" width="1.81" height="1.81" fill="#f4f8fb"/>
<rect x="424.12" y="447.38" width="18.10" height="18.10" fill="#98c8e0"/>
<rect x="443.68" y="447.38" width="18.10" height="18.10" fill="#8ac0db"/>
<rect x="463.22" y="447.38" width="18.10" height="18.10" fill="#3581ba"/>
<rect x="482.77" y="447.38" width="18.10" height="18.10" fill="#053061"/>
<rect x="509.11" y="454.16" width="4.53" height="4.53" fill="#edf5f9"/>
<rect x="527.30" y="452.81" width="7.24" height="7.24" fill="#e8f2f8"/>
<rect x="548.21" y="454.16" width="4.53" height="4.53" fill="#fef1e9"/>
<rect x="588.67" y="455.52" width="1.81" height="1.81" fill="#f4f8fb"/>
<rect x="156.76" y="473.26" width="5.43" height="5.43" fill="#e8f2f8"/>
<rect x="197.67" y="475.07" width="1.81" height="1.81" fill="#f4f8fb"/>
<rect x="213.15" y="471.00" width="9.96" height="9.96" fill="#fcd6c0"/>
<rect x="235.41" y="473.71" width="4.53" height="4.53" fill="#fef1e9"/>
<rect x="275.42" y="474.62" width="2.72" height="2.72" fill="#fef6f1"/>
<rect x="294.51" y="474.17" width="3.62" height="3.62" fill="#f4f8fb"/>
<rect x="312.25" y="472.36" width="7.24" height="7.24" fill="#fee9dd"/>
<rect x="332.71" y="473.26" width="5.43" height="5.43" fill="#e8f2f8"/>
<rect x="350.90" y="471.90" width="8.15" height="8.15" fill="#fee9dd"/>
<rect x="373.17" y="474.62" width="2.72" height="2.72" fill="#f4f8fb"/>
<rect x="391.36" y="473.26" width="5.43" height="5.43" fill="#fef4ee"/>
<rect x="412.72" y="475.07" width="1.81" height="1.81" fill="#f4f8fb"/>
<rect x="431.37" y="474.17" width="3.62" height="3.62" fill="#fef4ee"/>
<rect x="451.37" y="474.62" width="2.72" height="2.72" fill="#f4f8fb"/>
<rect x="467.30" y="471.00" width="9.96" height="9.96" fill="#b2d5e7"/>
<rect x="489.56" y="473.71" width="4.53" height="4.53" fill="#edf5f9"/>
<rect x="502.32" y="466.93" width="18.10" height="18.10" fill="#053061"/>
<rect x="521.88" y="466.93" width="18.10" height="18.10" fill="#cbe2ee"/>
<rect x="549.57" y="475.07" width="1.81" height="1.81" fill="#f4f8fb"/>
<rect x="566.86" y="472.81" width="6.33" height="6.33" fill="#e3eff6"/>
<rect x="588.22" y="474.62" width="2.72" height="2.72" fill="#f4f8fb"/>
<rect x="605.50" y="472.36" width="7.24" height="7.24" fill="#e8f2f8"/>
<rect x="150.42" y="486.48" width="18.10" height="18.10" fill="#ec9475"/>
<rect x="169.97" y="486.48" width="18.10" height="18.10" fill="#f8c0a4"/>
<rect x="189.52" y="486.48" width="18.10" height="18.10" fill="#fcd6c0"/>
<rect x="212.69" y="490.10" width="10.86" height="10.86" fill="#fddfcd"/>
<rect x="228.62" y="486.48" width="18.10" height="18.10" fill="#fddbc7"/>
<rect x="248.18" y="486.48" width="18.10" height="18.10" fill="#fbceb6"/>
<rect x="271.34" y="490.10" width="10.86" height="10.86" fill="#fee4d5"/>
<rect x="287.27" y="486.48" width="18.10" height="18.10" fill="#f8c0a4"/>
<rect x="310.44" y="490.10" width="10.86" height="10.86" fill="#fddfcd"/>
<rect x="326.37" y="486.48" width="18.10" height="18.10" fill="#f8c0a4"/>
<rect x="354.07" y="494.62" width="1.81" height="1.81" fill="#f4f8fb"/>
<rect x="365.47" y="486.48" width="18.10" height="18.10" fill="#b2d5e7"/>
<rect x="392.26" y="493.72" width="3.62" height="3.62" fill="#fef6f1"/>
<rect x="412.72" y="494.62" width="1.81" height="1.81" fill="#f4f8fb"/>
<rect x="424.12" y="486.48" width="18.10" height="18.10" fill="#dcecf4"/>
<rect x="443.68" y="486.48" width="18.10" height="18.10" fill="#c1ddec"/>
<rect x="468.65" y="491.91" width="7.24" height="7.24" fill="#e3eff6"/>
<rect x="488.20" y="491.91" width="7.24" height="7.24" fill="#e8f2f8"/>
<rect x="502.32" y="486.48" width="18.10" height="18.10" fill="#cbe2ee"/>
<rect x="521.88" y="486.48" width="18.10" height="18.10" fill="#053061"/>
<rect x="541.43" y="486.48" width="18.10" height="18.10" fill="#e8f2f8"/>
<rect x="580.53" y="486.48" width="18.10" height="18.10" fill="#b2d5e7"/>
<rect x="600.08" y="486.48" width="18.10" height="18.10" fill="#e8f2f8"/>
<rect x="153.59" y="509.19" width="11.77" height="11.77" fill="#fddfcd"/>
<rect x="169.97" y="506.03" width="18.10" height="18.10" fill="#fddbc7"/>
<rect x="194.50" y="511.00" width="8.15" height="8.15" fill="#fee9dd"/>
<rect x="215.86" y="512.81" width="4.53" height="4.53" fill="#fef4ee"/>
<rect x="234.51" y="511.91" width="6.33" height="6.33" fill="#feede3"/>
<rect x="255.87" y="513.72" width="2.72" height="2.72" fill="#fef6f1"/>
<rect x="274.96" y="513.27" width="3.62" height="3.62" fill="#fef6f1"/>
<rect x="292.25" y="511.00" width="8.15" height="8.15" fill="#fee9dd"/>
<rect x="306.82" y="506.03" width="18.10" height="18.10" fill="#f8c0a4"/>
<rect x="333.16" y="512.81" width="4.53" height="4.53" fill="#e8f2f8"/>
<rect x="354.07" y="514.17" width="1.81" height="1.81" fill="#f4f8fb"/>
<rect x="369.55" y="510.10" width="9.96" height="9.96" fill="#dcecf4"/>
<rect x="390.00" y="511.00" width="8.15" height="8.15" fill="#fddfcd"/>
<rect x="412.72" y="514.17" width="1.81" height="1.81" fill="#f4f8fb"/>
<rect x="432.27" y="514.17" width="1.81" height="1.81" fill="#f4f8fb"/>
<rect x="447.75" y="510.10" width="9.96" height="9.96" fill="#f8c0a4"/>
<rect x="489.56" y="512.81" width="4.53" height="4.53" fill="#fef1e9"/>
<rect x="510.47" y="514.17" width="1.81" height="1.81" fill="#f4f8fb"/>
<rect x="521.88" y="506.03" width="18.10" height="18.10" fill="#e8f2f8"/>
<rect x="541.43" y="506.03" width="18.10" height="18.10" fill="#053061"/>
<rect x="567.31" y="512.36" width="5.43" height="5.43" fill="#e3eff6"/>
<rect x="586.41" y="511.91" width="6.33" height="6.33" fill="#e8f2f8"/>
<rect x="600.08" y="506.03" width="18.10" height="18.10" fill="#dcecf4"/>
<rect x="155.40" y="530.55" width="8.15" height="8.15" fill="#d1e5f0"/>
<rect x="196.31" y="532.36" width="4.53" height="4.53" fill="#fee9dd"/>
<rect x="217.22" y="533.72" width="1.81" height="1.81" fill="#f4f8fb"/>
<rect x="236.77" y="533.72" width="1.81" height="1.81" fill="#f4f8fb"/>
<rect x="256.32" y="533.72" width="1.81" height="1.81" fill="#f4f8fb"/>
<rect x="273.61" y="531.46" width="6.33" height="6.33" fill="#feede3"/>
<rect x="291.35" y="529.65" width="9.96" height="9.96" fill="#cbe2ee"/>
<rect x="313.16" y="531.91" width="5.43" height="5.43" fill="#feede3"/>
<rect x="334.52" y="533.72" width="1.81" height="1.81" fill="#f4f8fb"/>
<rect x="409.55" y="530.55" width="8.15" height="8.15" fill="#b8d8e9"/>
<rect x="427.75" y="529.20" width="10.86" height="10.86" fill="#fee4d5"/>
<rect x="470.92" y="533.27" width="2.72" height="2.72" fill="#fef6f1"/>
<rect x="508.21" y="531.46" width="6.33" height="6.33" fill="#e3eff6"/>
<rect x="547.76" y="531.91" width="5.43" height="5.43" fill="#e3eff6"/>
<rect x="560.98" y="525.58" width="18.10" height="18.10" fill="#053061"/>
<rect x="580.53" y="525.58" width="18.10" height="18.10" fill="#6aacd0"/>
<rect x="600.08" y="525.58" width="18.10" height="18.10" fill="#6aacd0"/>
<rect x="156.76" y="551.46" width="5.43" height="5.43" fill="#e8f2f8"/>
<rect x="175.40" y="550.55" width="7.24" height="7.24" fill="#fef1e9"/>
<rect x="196.31" y="551.91" width="4.53" height="4.53" fill="#edf5f9"/>
<rect x="232.70" y="549.20" width="9.96" height="9.96" fill="#fcd6c0"/>
<rect x="253.61" y="550.55" width="7.24" height="7.24" fill="#fee4d5"/>
<rect x="294.51" y="552.37" width="3.62" height="3.62" fill="#fef6f1"/>
<rect x="313.16" y="551.46" width="5.43" height="5.43" fill="#fee9dd"/>
<rect x="354.07" y="553.27" width="1.81" height="1.81" fill="#f4f8fb"/>
<rect x="373.62" y="553.27" width="1.81" height="1.81" fill="#f4f8fb"/>
<rect x="390.00" y="550.10" width="8.15" height="8.15" fill="#e3eff6"/>
<rect x="411.36" y="551.91" width="4.53" height="4.53" fill="#edf5f9"/>
<rect x="432.27" y="553.27" width="1.81" height="1.81" fill="#f4f8fb"/>
<rect x="450.46" y="551.91" width="4.53" height="4.53" fill="#edf5f9"/>
<rect x="471.37" y="553.27" width="1.81" height="1.81" fill="#f4f8fb"/>
<rect x="490.92" y="553.27" width="1.81" height="1.81" fill="#f4f8fb"/>
<rect x="510.02" y="552.82" width="2.72" height="2.72" fill="#f4f8fb"/>
<rect x="521.88" y="545.12" width="18.10" height="18.10" fill="#b2d5e7"/>
<rect x="547.31" y="551.01" width="6.33" height="6.33" fill="#e8f2f8"/>
<rect x="560.98" y="545.12" width="18.10" height="18.10" fill="#6aacd0"/>
<rect x="580.53" y="545.12" width="18.10" height="18.10" fill="#053061"/>
<rect x="600.08" y="545.12" width="18.10" height="18.10" fill="#2a71b2"/>
<rect x="157.66" y="571.92" width="3.62" height="3.62" fill="#f4f8fb"/>
<rect x="169.97" y="564.68" width="18.10" height="18.10" fill="#fef1e9"/>
<rect x="197.22" y="572.37" width="2.72" height="2.72" fill="#f4f8fb"/>
<rect x="216.31" y="571.92" width="3.62" height="3.62" fill="#fef6f1"/>
<rect x="236.77" y="572.82" width="1.81" height="1.81" fill="#f4f8fb"/>
<rect x="294.51" y="571.92" width="3.62" height="3.62" fill="#fef6f1"/>
<rect x="314.06" y="571.92" width="3.62" height="3.62" fill="#fef6f1"/>
<rect x="334.52" y="572.82" width="1.81" height="1.81" fill="#f4f8fb"/>
<rect x="354.07" y="572.82" width="1.81" height="1.81" fill="#f4f8fb"/>
<rect x="373.62" y="572.82" width="1.81" height="1.81" fill="#f4f8fb"/>
<rect x="385.02" y="564.68" width="18.10" height="18.10" fill="#dcecf4"/>
<rect x="408.19" y="568.30" width="10.86" height="10.86" fill="#dcecf4"/>
<rect x="450.92" y="571.92" width="3.62" height="3.62" fill="#fef6f1"/>
<rect x="507.75" y="570.11" width="7.24" height="7.24" fill="#e8f2f8"/>
<rect x="521.88" y="564.68" width="18.10" height="18.10" fill="#e8f2f8"/>
<rect x="541.43" y="564.68" width="18.10" height="18.10" fill="#dcecf4"/>
<rect x="560.98" y="564.68" width="18.10" height="18.10" fill="#6aacd0"/>
<rect x="580.53" y="564.68" width="18.10" height="18.10" fill="#2a71b2"/>
<rect x="600.08" y="564.68" width="18.10" height="18.10" fill="#053061"/>
</g>
<path d="M149.50 114.30V583.50M149.70 114.50H618.90M169.50 114.30V583.50M149.70 133.50H618.90M188.50 114.30V583.50M149.70 153.50H618.90M208.50 114.30V583.50M149.70 172.50H618.90M227.50 114.30V583.50M149.70 192.50H618.90M247.50 114.30V583.50M149.70 212.50H618.90M266.50 114.30V583.50M149.70 231.50H618.90M286.50 114.30V583.50M149.70 251.50H618.90M306.50 114.30V583.50M149.70 270.50H618.90M325.50 114.30V583.50M149.70 290.50H618.90M345.50 114.30V583.50M149.70 309.50H618.90M364.50 114.30V583.50M149.70 329.50H618.90M384.50 114.30V583.50M149.70 348.50H618.90M403.50 114.30V583.50M149.70 368.50H618.90M423.50 114.30V583.50M149.70 388.50H618.90M442.50 114.30V583.50M149.70 407.50H618.90M462.50 114.30V583.50M149.70 427.50H618.90M482.50 114.30V583.50M149.70 446.50H618.90M501.50 114.30V583.50M149.70 466.50H618.90M521.50 114.30V583.50M149.70 485.50H618.90M540.50 114.30V583.50M149.70 505.50H618.90M560.50 114.30V583.50M149.70 524.50H618.90M579.50 114.30V583.50M149.70 544.50H618.90M599.50 114.30V583.50M149.70 563.50H618.90M618.50 114.30V583.50M149.70 583.50H618.90" stroke="#e5ecee" stroke-width="1" fill="none"/>
<g fill="#000">
<polygon points="179.02,120.63 179.64,122.88 181.97,122.77 180.02,124.05 180.85,126.23 179.02,124.78 177.20,126.23 178.03,124.05 176.08,122.77 178.41,122.88"/>
<polygon points="530.92,120.63 531.54,122.88 533.87,122.77 531.92,124.05 532.75,126.23 530.92,124.78 529.10,126.23 529.93,124.05 527.98,122.77 530.31,122.88"/>
<polygon points="159.47,140.18 160.09,142.43 162.42,142.32 160.47,143.60 161.30,145.78 159.47,144.33 157.65,145.78 158.48,143.60 156.53,142.32 158.86,142.43"/>
<polygon points="198.57,140.18 199.19,142.43 201.52,142.32 199.57,143.60 200.40,145.78 198.57,144.33 196.75,145.78 197.58,143.60 195.63,142.32 197.96,142.43"/>
<polygon points="218.12,140.18 218.74,142.43 221.07,142.32 219.12,143.60 219.95,145.78 218.12,144.33 216.30,145.78 217.13,143.60 215.18,142.32 217.51,142.43"/>
<polygon points="237.68,140.18 238.29,142.43 240.62,142.32 238.67,143.60 239.50,145.78 237.68,144.33 235.85,145.78 236.68,143.60 234.73,142.32 237.06,142.43"/>
<polygon points="257.23,140.18 257.84,142.43 260.17,142.32 258.22,143.60 259.05,145.78 257.23,144.33 255.40,145.78 256.23,143.60 254.28,142.32 256.61,142.43"/>
<polygon points="296.32,140.18 296.94,142.43 299.27,142.32 297.32,143.60 298.15,145.78 296.32,144.33 294.50,145.78 295.33,143.60 293.38,142.32 295.71,142.43"/>
<polygon points="354.98,140.18 355.59,142.43 357.92,142.32 355.97,143.60 356.80,145.78 354.98,144.33 353.15,145.78 353.98,143.60 352.03,142.32 354.36,142.43"/>
<polygon points="374.52,140.18 375.14,142.43 377.47,142.32 375.52,143.60 376.35,145.78 374.52,144.33 372.70,145.78 373.53,143.60 371.58,142.32 373.91,142.43"/>
<polygon points="433.18,140.18 433.79,142.43 436.12,142.32 434.17,143.60 435.00,145.78 433.18,144.33 431.35,145.78 432.18,143.60 430.23,142.32 432.56,142.43"/>
<polygon points="530.92,140.18 531.54,142.43 533.87,142.32 531.92,143.60 532.75,145.78 530.92,144.33 529.10,145.78 529.93,143.60 527.98,142.32 530.31,142.43"/>
<polygon points="550.48,140.18 551.09,142.43 553.42,142.32 551.47,143.60 552.30,145.78 550.48,144.33 548.65,145.78 549.48,143.60 547.53,142.32 549.86,142.43"/>
<polygon points="179.02,159.73 179.64,161.98 181.97,161.87 180.02,163.15 180.85,165.33 179.02,163.88 177.20,165.33 178.03,163.15 176.08,161.87 178.41,161.98"/>
<polygon points="354.98,159.73 355.59,161.98 357.92,161.87 355.97,163.15 356.80,165.33 354.98,163.88 353.15,165.33 353.98,163.15 352.03,161.87 354.36,161.98"/>
<polygon points="413.62,159.73 414.24,161.98 416.57,161.87 414.62,163.15 415.45,165.33 413.62,163.88 411.80,165.33 412.63,163.15 410.68,161.87 413.01,161.98"/>
<polygon points="179.02,179.28 179.64,181.53 181.97,181.42 180.02,182.70 180.85,184.88 179.02,183.43 177.20,184.88 178.03,182.70 176.08,181.42 178.41,181.53"/>
<polygon points="237.68,179.28 238.29,181.53 240.62,181.42 238.67,182.70 239.50,184.88 237.68,183.43 235.85,184.88 236.68,182.70 234.73,181.42 237.06,181.53"/>
<polygon points="374.52,179.28 375.14,181.53 377.47,181.42 375.52,182.70 376.35,184.88 374.52,183.43 372.70,184.88 373.53,182.70 371.58,181.42 373.91,181.53"/>
<polygon points="179.02,198.83 179.64,201.08 181.97,200.97 180.02,202.25 180.85,204.43 179.02,202.98 177.20,204.43 178.03,202.25 176.08,200.97 178.41,201.08"/>
<polygon points="218.12,198.83 218.74,201.08 221.07,200.97 219.12,202.25 219.95,204.43 218.12,202.98 216.30,204.43 217.13,202.25 215.18,200.97 217.51,201.08"/>
<polygon points="257.23,198.83 257.84,201.08 260.17,200.97 258.22,202.25 259.05,204.43 257.23,202.98 255.40,204.43 256.23,202.25 254.28,200.97 256.61,201.08"/>
<polygon points="374.52,198.83 375.14,201.08 377.47,200.97 375.52,202.25 376.35,204.43 374.52,202.98 372.70,204.43 373.53,202.25 371.58,200.97 373.91,201.08"/>
<polygon points="491.82,198.83 492.44,201.08 494.77,200.97 492.82,202.25 493.65,204.43 491.82,202.98 490.00,204.43 490.83,202.25 488.88,200.97 491.21,201.08"/>
<polygon points="179.02,218.38 179.64,220.63 181.97,220.52 180.02,221.80 180.85,223.98 179.02,222.53 177.20,223.98 178.03,221.80 176.08,220.52 178.41,220.63"/>
<polygon points="237.68,218.38 238.29,220.63 240.62,220.52 238.67,221.80 239.50,223.98 237.68,222.53 235.85,223.98 236.68,221.80 234.73,220.52 237.06,220.63"/>
<polygon points="296.32,218.38 296.94,220.63 299.27,220.52 297.32,221.80 298.15,223.98 296.32,222.53 294.50,223.98 295.33,221.80 293.38,220.52 295.71,220.63"/>
<polygon points="374.52,218.38 375.14,220.63 377.47,220.52 375.52,221.80 376.35,223.98 374.52,222.53 372.70,223.98 373.53,221.80 371.58,220.52 373.91,220.63"/>
<polygon points="433.18,218.38 433.79,220.63 436.12,220.52 434.17,221.80 435.00,223.98 433.18,222.53 431.35,223.98 432.18,221.80 430.23,220.52 432.56,220.63"/>
<polygon points="530.92,218.38 531.54,220.63 533.87,220.52 531.92,221.80 532.75,223.98 530.92,222.53 529.10,223.98 529.93,221.80 527.98,220.52 530.31,220.63"/>
<polygon points="296.32,237.93 296.94,240.18 299.27,240.07 297.32,241.35 298.15,243.53 296.32,242.08 294.50,243.53 295.33,241.35 293.38,240.07 295.71,240.18"/>
<polygon points="179.02,257.47 179.64,259.73 181.97,259.62 180.02,260.90 180.85,263.08 179.02,261.62 177.20,263.08 178.03,260.90 176.08,259.62 178.41,259.73"/>
<polygon points="257.23,257.47 257.84,259.73 260.17,259.62 258.22,260.90 259.05,263.08 257.23,261.62 255.40,263.08 256.23,260.90 254.28,259.62 256.61,259.73"/>
<polygon points="276.77,257.47 277.39,259.73 279.72,259.62 277.77,260.90 278.60,263.08 276.77,261.62 274.95,263.08 275.78,260.90 273.83,259.62 276.16,259.73"/>
<polygon points="374.52,257.47 375.14,259.73 377.47,259.62 375.52,260.90 376.35,263.08 374.52,261.62 372.70,263.08 373.53,260.90 371.58,259.62 373.91,259.73"/>
<polygon points="530.92,257.47 531.54,259.73 533.87,259.62 531.92,260.90 532.75,263.08 530.92,261.62 529.10,263.08 529.93,260.90 527.98,259.62 530.31,259.73"/>
<polygon points="179.02,316.12 179.64,318.38 181.97,318.27 180.02,319.55 180.85,321.73 179.02,320.27 177.20,321.73 178.03,319.55 176.08,318.27 178.41,318.38"/>
<polygon points="198.57,316.12 199.19,318.38 201.52,318.27 199.57,319.55 200.40,321.73 198.57,320.27 196.75,321.73 197.58,319.55 195.63,318.27 197.96,318.38"/>
<polygon points="374.52,316.12 375.14,318.38 377.47,318.27 375.52,319.55 376.35,321.73 374.52,320.27 372.70,321.73 373.53,319.55 371.58,318.27 373.91,318.38"/>
<polygon points="433.18,316.12 433.79,318.38 436.12,318.27 434.17,319.55 435.00,321.73 433.18,320.27 431.35,321.73 432.18,319.55 430.23,318.27 432.56,318.38"/>
<polygon points="179.02,335.67 179.64,337.93 181.97,337.82 180.02,339.10 180.85,341.28 179.02,339.82 177.20,341.28 178.03,339.10 176.08,337.82 178.41,337.93"/>
<polygon points="218.12,335.67 218.74,337.93 221.07,337.82 219.12,339.10 219.95,341.28 218.12,339.82 216.30,341.28 217.13,339.10 215.18,337.82 217.51,337.93"/>
<polygon points="237.68,335.67 238.29,337.93 240.62,337.82 238.67,339.10 239.50,341.28 237.68,339.82 235.85,341.28 236.68,339.10 234.73,337.82 237.06,337.93"/>
<polygon points="257.23,335.67 257.84,337.93 260.17,337.82 258.22,339.10 259.05,341.28 257.23,339.82 255.40,341.28 256.23,339.10 254.28,337.82 256.61,337.93"/>
<polygon points="296.32,335.67 296.94,337.93 299.27,337.82 297.32,339.10 298.15,341.28 296.32,339.82 294.50,341.28 295.33,339.10 293.38,337.82 295.71,337.93"/>
<polygon points="354.98,335.67 355.59,337.93 357.92,337.82 355.97,339.10 356.80,341.28 354.98,339.82 353.15,341.28 353.98,339.10 352.03,337.82 354.36,337.93"/>
<polygon points="530.92,335.67 531.54,337.93 533.87,337.82 531.92,339.10 532.75,341.28 530.92,339.82 529.10,341.28 529.93,339.10 527.98,337.82 530.31,337.93"/>
<polygon points="413.62,355.22 414.24,357.48 416.57,357.37 414.62,358.65 415.45,360.83 413.62,359.38 411.80,360.83 412.63,358.65 410.68,357.37 413.01,357.48"/>
<polygon points="198.57,374.77 199.19,377.03 201.52,376.92 199.57,378.20 200.40,380.38 198.57,378.93 196.75,380.38 197.58,378.20 195.63,376.92 197.96,377.03"/>
<polygon points="394.07,374.77 394.69,377.03 397.02,376.92 395.07,378.20 395.90,380.38 394.07,378.93 392.25,380.38 393.08,378.20 391.13,376.92 393.46,377.03"/>
<polygon points="179.02,394.32 179.64,396.58 181.97,396.47 180.02,397.75 180.85,399.93 179.02,398.48 177.20,399.93 178.03,397.75 176.08,396.47 178.41,396.58"/>
<polygon points="257.23,394.32 257.84,396.58 260.17,396.47 258.22,397.75 259.05,399.93 257.23,398.48 255.40,399.93 256.23,397.75 254.28,396.47 256.61,396.58"/>
<polygon points="354.98,394.32 355.59,396.58 357.92,396.47 355.97,397.75 356.80,399.93 354.98,398.48 353.15,399.93 353.98,397.75 352.03,396.47 354.36,396.58"/>
<polygon points="452.73,394.32 453.34,396.58 455.67,396.47 453.72,397.75 454.55,399.93 452.73,398.48 450.90,399.93 451.73,397.75 449.78,396.47 452.11,396.58"/>
<polygon points="472.27,394.32 472.89,396.58 475.22,396.47 473.27,397.75 474.10,399.93 472.27,398.48 470.45,399.93 471.28,397.75 469.33,396.47 471.66,396.58"/>
<polygon points="491.82,394.32 492.44,396.58 494.77,396.47 492.82,397.75 493.65,399.93 491.82,398.48 490.00,399.93 490.83,397.75 488.88,396.47 491.21,396.58"/>
<polygon points="530.92,394.32 531.54,396.58 533.87,396.47 531.92,397.75 532.75,399.93 530.92,398.48 529.10,399.93 529.93,397.75 527.98,396.47 530.31,396.58"/>
<polygon points="433.18,413.88 433.79,416.13 436.12,416.02 434.17,417.30 435.00,419.48 433.18,418.03 431.35,419.48 432.18,417.30 430.23,416.02 432.56,416.13"/>
<polygon points="472.27,413.88 472.89,416.13 475.22,416.02 473.27,417.30 474.10,419.48 472.27,418.03 470.45,419.48 471.28,417.30 469.33,416.02 471.66,416.13"/>
<polygon points="491.82,413.88 492.44,416.13 494.77,416.02 492.82,417.30 493.65,419.48 491.82,418.03 490.00,419.48 490.83,417.30 488.88,416.02 491.21,416.13"/>
<polygon points="433.18,433.42 433.79,435.68 436.12,435.57 434.17,436.85 435.00,439.03 433.18,437.57 431.35,439.03 432.18,436.85 430.23,435.57 432.56,435.68"/>
<polygon points="452.73,433.42 453.34,435.68 455.67,435.57 453.72,436.85 454.55,439.03 452.73,437.57 450.90,439.03 451.73,436.85 449.78,435.57 452.11,435.68"/>
<polygon points="491.82,433.42 492.44,435.68 494.77,435.57 492.82,436.85 493.65,439.03 491.82,437.57 490.00,439.03 490.83,436.85 488.88,435.57 491.21,435.68"/>
<polygon points="237.68,452.97 238.29,455.23 240.62,455.12 238.67,456.40 239.50,458.58 237.68,457.12 235.85,458.58 236.68,456.40 234.73,455.12 237.06,455.23"/>
<polygon points="433.18,452.97 433.79,455.23 436.12,455.12 434.17,456.40 435.00,458.58 433.18,457.12 431.35,458.58 432.18,456.40 430.23,455.12 432.56,455.23"/>
<polygon points="452.73,452.97 453.34,455.23 455.67,455.12 453.72,456.40 454.55,458.58 452.73,457.12 450.90,458.58 451.73,456.40 449.78,455.12 452.11,455.23"/>
<polygon points="472.27,452.97 472.89,455.23 475.22,455.12 473.27,456.40 474.10,458.58 472.27,457.12 470.45,458.58 471.28,456.40 469.33,455.12 471.66,455.23"/>
<polygon points="159.47,492.07 160.09,494.33 162.42,494.22 160.47,495.50 161.30,497.68 159.47,496.23 157.65,497.68 158.48,495.50 156.53,494.22 158.86,494.33"/>
<polygon points="179.02,492.07 179.64,494.33 181.97,494.22 180.02,495.50 180.85,497.68 179.02,496.23 177.20,497.68 178.03,495.50 176.08,494.22 178.41,494.33"/>
<polygon points="257.23,492.07 257.84,494.33 260.17,494.22 258.22,495.50 259.05,497.68 257.23,496.23 255.40,497.68 256.23,495.50 254.28,494.22 256.61,494.33"/>
<polygon points="296.32,492.07 296.94,494.33 299.27,494.22 297.32,495.50 298.15,497.68 296.32,496.23 294.50,497.68 295.33,495.50 293.38,494.22 295.71,494.33"/>
<polygon points="374.52,492.07 375.14,494.33 377.47,494.22 375.52,495.50 376.35,497.68 374.52,496.23 372.70,497.68 373.53,495.50 371.58,494.22 373.91,494.33"/>
<polygon points="433.18,492.07 433.79,494.33 436.12,494.22 434.17,495.50 435.00,497.68 433.18,496.23 431.35,497.68 432.18,495.50 430.23,494.22 432.56,494.33"/>
<polygon points="589.58,492.07 590.19,494.33 592.52,494.22 590.57,495.50 591.40,497.68 589.58,496.23 587.75,497.68 588.58,495.50 586.63,494.22 588.96,494.33"/>
<polygon points="179.02,511.62 179.64,513.88 181.97,513.77 180.02,515.05 180.85,517.23 179.02,515.77 177.20,517.23 178.03,515.05 176.08,513.77 178.41,513.88"/>
<polygon points="609.12,511.62 609.74,513.88 612.07,513.77 610.12,515.05 610.95,517.23 609.12,515.77 607.30,517.23 608.13,515.05 606.18,513.77 608.51,513.88"/>
<polygon points="589.58,531.17 590.19,533.43 592.52,533.32 590.57,534.60 591.40,536.78 589.58,535.32 587.75,536.78 588.58,534.60 586.63,533.32 588.96,533.43"/>
<polygon points="609.12,531.17 609.74,533.43 612.07,533.32 610.12,534.60 610.95,536.78 609.12,535.32 607.30,536.78 608.13,534.60 606.18,533.32 608.51,533.43"/>
<polygon points="530.92,550.72 531.54,552.98 533.87,552.87 531.92,554.15 532.75,556.33 530.92,554.87 529.10,556.33 529.93,554.15 527.98,552.87 530.31,552.98"/>
<polygon points="570.02,550.72 570.64,552.98 572.97,552.87 571.02,554.15 571.85,556.33 570.02,554.87 568.20,556.33 569.03,554.15 567.08,552.87 569.41,552.98"/>
<polygon points="609.12,550.72 609.74,552.98 612.07,552.87 610.12,554.15 610.95,556.33 609.12,554.87 607.30,556.33 608.13,554.15 606.18,552.87 608.51,552.98"/>
<polygon points="550.48,570.27 551.09,572.53 553.42,572.42 551.47,573.70 552.30,575.88 550.48,574.42 548.65,575.88 549.48,573.70 547.53,572.42 549.86,572.53"/>
<polygon points="570.02,570.27 570.64,572.53 572.97,572.42 571.02,573.70 571.85,575.88 570.02,574.42 568.20,575.88 569.03,573.70 567.08,572.42 569.41,572.53"/>
<polygon points="589.58,570.27 590.19,572.53 592.52,572.42 590.57,573.70 591.40,575.88 589.58,574.42 587.75,575.88 588.58,573.70 586.63,572.42 588.96,572.53"/>
</g>
<g font-size="12.5" text-anchor="end">
<text x="145" y="128.20" xml:space="preserve">Ever/never smoked</text>
<text x="145" y="147.68" xml:space="preserve">BMI</text>
<text x="145" y="167.16" xml:space="preserve">Childhood obesity</text>
<text x="145" y="186.63" xml:space="preserve">Fasting glucose</text>
<text x="145" y="206.11" xml:space="preserve">T2D</text>
<text x="145" y="225.59" xml:space="preserve">Coronary artery disease</text>
<text x="145" y="245.07" xml:space="preserve">LDL</text>
<text x="145" y="264.55" xml:space="preserve">Triglycerides</text>
<text x="145" y="284.02" xml:space="preserve">Rheumatoid arthritis</text>
<text x="145" y="303.50" xml:space="preserve">Alzheimer’s disease</text>
<text x="145" y="322.98" xml:space="preserve">Age at menarche</text>
<text x="145" y="342.46" xml:space="preserve">HDL</text>
<text x="145" y="361.94" xml:space="preserve">Crohn’s disease</text>
<text x="145" y="381.41" xml:space="preserve">Ulcerative colitis</text>
<text x="145" y="400.89" xml:space="preserve">Height</text>
<text x="145" y="420.37" xml:space="preserve">Infant head circumference</text>
<text x="145" y="439.85" xml:space="preserve">Birth length</text>
<text x="145" y="459.33" xml:space="preserve">Birth weight</text>
<text x="145" y="478.80" xml:space="preserve">Autism spectrum</text>
<text x="145" y="498.28" xml:space="preserve">Years of education</text>
<text x="145" y="517.76" xml:space="preserve">Anorexia </text>
<text x="145" y="537.24" xml:space="preserve">Depression</text>
<text x="145" y="556.72" xml:space="preserve">Bipolar disorder</text>
<text x="145" y="576.19" xml:space="preserve">Schizophrenia</text>
</g>
<g font-size="12.5">
<text transform="translate(161.67 110.10) rotate(-45)">Ever/never smoked</text>
<text transform="translate(181.27 110.10) rotate(-45)">BMI</text>
<text transform="translate(200.87 110.10) rotate(-45)">Childhood obesity</text>
<text transform="translate(220.47 110.10) rotate(-45)">Fasting glucose</text>
<text transform="translate(240.07 110.10) rotate(-45)">T2D</text>
<text transform="translate(259.67 110.10) rotate(-45)">Coronary artery disease</text>
<text transform="translate(279.26 110.10) rotate(-45)">LDL</text>
<text transform="translate(298.86 110.10) rotate(-45)">Triglycerides</text>
<text transform="translate(318.46 110.10) rotate(-45)">Rheumatoid arthritis</text>
<text transform="translate(338.06 110.10) rotate(-45)">Alzheimer’s disease</text>
<text transform="translate(357.66 110.10) rotate(-45)">Age at menarche</text>
<text transform="translate(377.25 110.10) rotate(-45)">HDL</text>
<text transform="translate(396.85 110.10) rotate(-45)">Crohn’s disease</text>
<text transform="translate(416.45 110.10) rotate(-45)">Ulcerative colitis</text>
<text transform="translate(436.05 110.10) rotate(-45)">Height</text>
<text transform="translate(455.65 110.10) rotate(-45)">Infant head circumference</text>
<text transform="translate(475.24 110.10) rotate(-45)">Birth length</text>
<text transform="translate(494.84 110.10) rotate(-45)">Birth weight</text>
<text transform="translate(514.44 110.10) rotate(-45)">Autism spectrum</text>
<text transform="translate(534.04 110.10) rotate(-45)">Years of education</text>
<text transform="translate(553.64 110.10) rotate(-45)">Anorexia</text>
<text transform="translate(573.23 110.10) rotate(-45)">Depression</text>
<text transform="translate(592.83 110.10) rotate(-45)">Bipolar disorder</text>
<text transform="translate(612.43 110.10) rotate(-45)">Schizophrenia</text>
</g>
<rect x="627.90" y="114.30" width="17.50" height="469.20" fill="url(#cb)"/>
<path d="M627.90 114.30V583.50M645.40 114.30V583.50" stroke="#222" stroke-width="1" fill="none"/>
<g font-size="12.6" text-anchor="end">
<text x="685" y="118.30">1.00</text>
<text x="685" y="170.43">0.78</text>
<text x="685" y="222.57">0.56</text>
<text x="685" y="274.70">0.33</text>
<text x="685" y="326.83">0.11</text>
<text x="685" y="378.97">−0.11</text>
<text x="685" y="431.10">−0.33</text>
<text x="685" y="483.23">−0.56</text>
<text x="685" y="535.37">−0.78</text>
<text x="685" y="587.50">−1.00</text>
</g>
<path d="M645.40 114.30H649.50M645.40 166.43H649.50M645.40 218.57H649.50M645.40 270.70H649.50M645.40 322.83H649.50M645.40 374.97H649.50M645.40 427.10H649.50M645.40 479.23H649.50M645.40 531.37H649.50M645.40 583.50H649.50" stroke="#222" stroke-width="1" fill="none"/>
</svg></body></html>
